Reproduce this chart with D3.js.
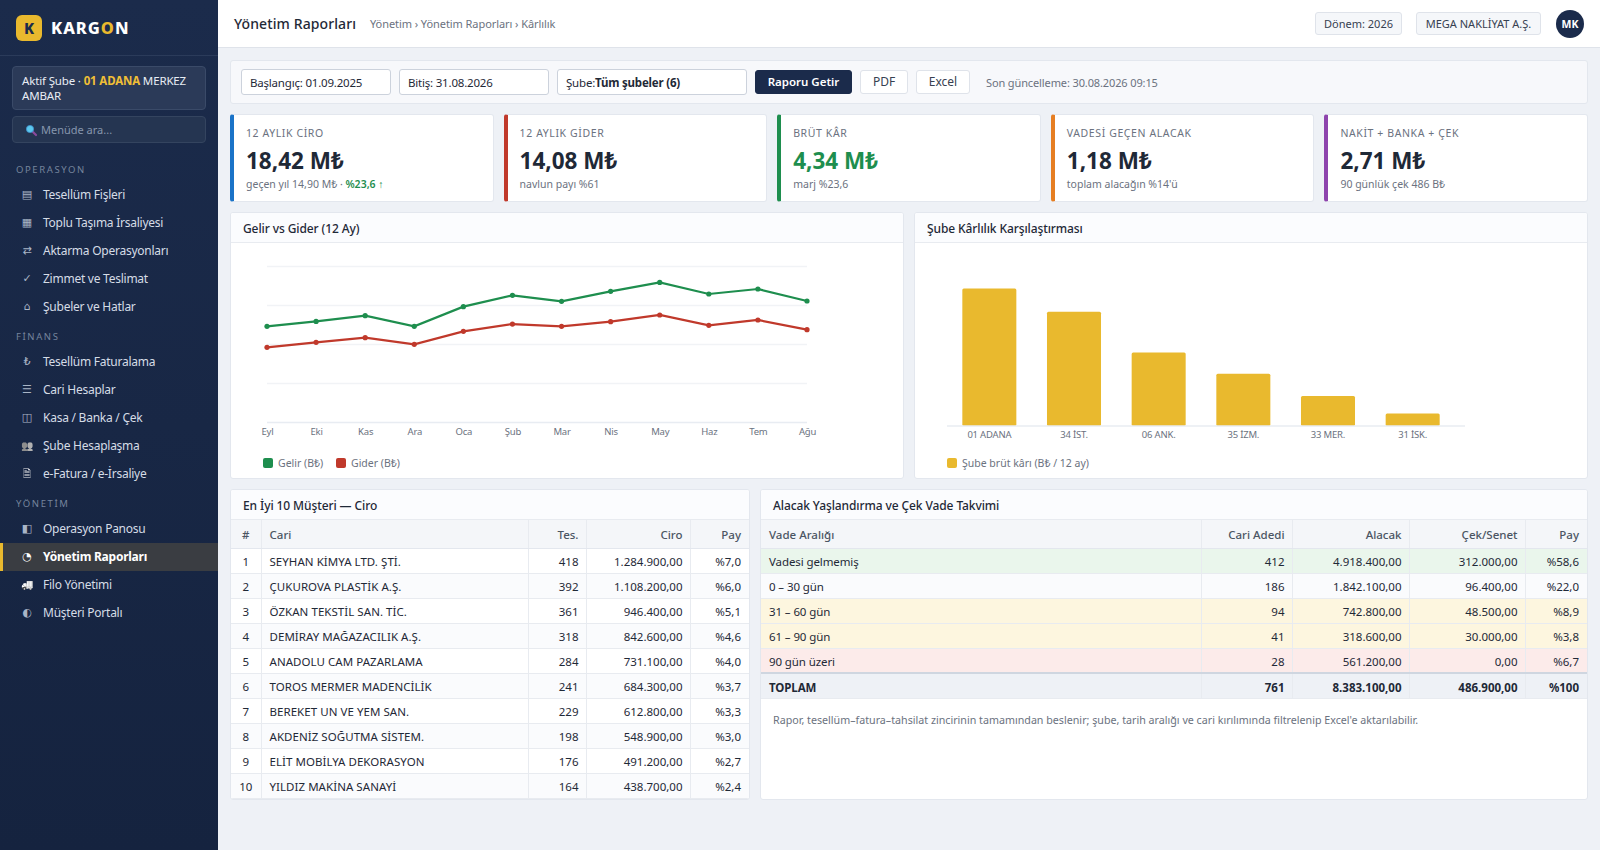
<!DOCTYPE html>
<html lang="tr">
<head>
<meta charset="utf-8">
<title>Yönetim Raporları</title>
<script src="https://cdnjs.cloudflare.com/ajax/libs/d3/7.9.0/d3.min.js"></script>
<style>
*{box-sizing:border-box}
html,body{margin:0;width:1600px;height:850px;overflow:hidden;background:#eef1f6;font-family:"Noto Sans",sans-serif;color:#1f2937}
.abs{position:absolute}
#side{left:0;top:0;width:218px;height:850px;background:linear-gradient(180deg,#1b2b4b,#15233f);color:#cbd5e1}
#logoRow{left:0;top:0;width:218px;height:56px;border-bottom:1px solid #2b3b5a}
#logoK{left:16px;top:15px;width:26px;height:26px;border-radius:6px;background:#e9b92e;color:#1b2b4b;font-weight:800;font-size:15px;text-align:center;line-height:26px}
#logoT{left:51px;top:16px;font-weight:800;font-size:16.5px;line-height:24px;letter-spacing:1px;color:#fff}
#logoT span{color:#e9b92e}
#aktif{left:12px;top:66px;width:194px;height:44px;border-radius:4px;background:#2b3a58;border:1px solid #3a4a68;padding:6px 9px;font-size:11.5px;letter-spacing:-.15px;line-height:15px;color:#e8edf4}
#aktif b{color:#f0bf36}
#ara{left:12px;top:116px;width:194px;height:27px;border-radius:4px;background:#253551;border:1px solid #34445f;padding:0 0 0 28px;font-size:11px;line-height:25px;color:#8595ad}
#ara svg{left:12px;top:7px}
.sec{left:16px;font-size:9.5px;letter-spacing:1.6px;color:#75849c;line-height:12px}
.nav{left:0;width:218px;height:28px;font-size:12px;letter-spacing:-.25px;line-height:28px;color:#d5dce6}
.nav .ic{position:absolute;left:18px;width:18px;text-align:center;font-size:11px;letter-spacing:0;color:#a9b5c6;font-family:"DejaVu Sans","Noto Sans",sans-serif}
.nav .ic.em{filter:grayscale(1) brightness(1.35);font-size:10px}
.nav .tx{position:absolute;left:43px}
.nav.on{background:#3a3d42;color:#fff;font-weight:700;border-left:3px solid #e9b92e}
.nav.on .ic{left:15px;color:#fff}.nav.on .tx{left:40px}
#top{left:218px;top:0;width:1382px;height:48px;background:#fff;border-bottom:1px solid #dfe3ea}
#ttl{left:16px;top:12px;font-size:14px;letter-spacing:.1px;font-weight:500;line-height:24px;color:#1f2937}
#crumb{left:152px;top:14px;font-size:11px;letter-spacing:-.07px;line-height:20px;color:#6b7280}
.pill{top:12px;height:23px;background:#f5f7fa;border:1px solid #dfe3ea;border-radius:3px;font-size:11px;line-height:21px;text-align:center;color:#374151}
#av{left:1338px;top:10px;width:28px;height:28px;border-radius:50%;background:#1b2b4b;color:#fff;font-size:10.5px;font-weight:700;text-align:center;line-height:28px}
#bar{left:230px;top:60px;width:1358px;height:44px;background:#f7f8fb;border:1px solid #e3e7ee;border-radius:3px}
.inp{top:69px;height:26px;background:#fff;border:1px solid #ccd2dc;border-radius:3px;font-size:11.5px;letter-spacing:-.2px;line-height:25px;padding-left:8px;color:#1f2937}
.inp b{font-weight:700}
.btn{top:70px;height:24px;border-radius:3px;font-size:12px;line-height:22px;text-align:center;background:#fff;border:1px solid #dfe3ea;color:#374151}
.btn.p{background:#1b2b4b;color:#fff;border-color:#1b2b4b;font-weight:600;font-size:11.5px}
#upd{left:986px;top:72px;font-size:11px;letter-spacing:-.12px;line-height:22px;color:#6b7280}
.kpi{top:114px;width:263.6px;height:88px;background:#fff;border:1px solid #e3e7ee;border-left-width:4px;border-radius:3px}
.kpi .l{position:absolute;left:12px;top:11px;font-size:10.5px;letter-spacing:.6px;line-height:14px;color:#6b7280;white-space:nowrap}
.kpi .v{position:absolute;left:12px;top:30px;font-size:22.5px;font-weight:700;line-height:32px;color:#1f2937;white-space:nowrap}
.kpi .s{position:absolute;left:12px;top:62px;font-size:10.5px;line-height:14px;color:#6b7280;white-space:nowrap}
.kpi .s b{color:#1e8e4e;font-weight:600}
.card{background:#fff;border:1px solid #e3e7ee;border-radius:3px;overflow:hidden}
.hd{height:30px;background:#fbfcfe;border-bottom:1px solid #e8ebf0;padding:1px 12px 0;font-size:12px;letter-spacing:-.1px;font-weight:500;line-height:30px;color:#1f2937}
svg{position:absolute;left:0;top:0}
.legend{position:absolute;top:243px;font-size:10.5px;line-height:14px;color:#6b7280;white-space:nowrap}
.legend i{display:inline-block;width:10px;height:10px;border-radius:2px;vertical-align:-1px;margin-right:5px}
table{border-collapse:collapse;table-layout:fixed;width:100%;font-size:11.5px}
th{height:28px;background:#f4f6f9;font-weight:500;color:#4b5563;border-right:1px solid #e8ebf0;border-bottom:1px solid #e3e7ee;padding:2px 8px 0;text-align:left}
td{height:25px;border-right:1px solid #e8ebf0;border-bottom:1px solid #e8ebf0;padding:2px 8px 0;color:#1f2937;white-space:nowrap;overflow:hidden}
th:last-child,td:last-child{border-right:none}
.r{text-align:right;padding-right:7px}.c{text-align:center}
th.r:last-child,td.r:last-child{padding-right:8px}
.caps td:nth-child(2){letter-spacing:.05px}
.v0 td:first-child{letter-spacing:-.1px}
tr.z td{background:#fafbfd}
tr.g td{background:#eaf6ec}tr.y td{background:#fdf6df}tr.p td{background:#fcebea}
tr.t td{background:#eef1f6;font-weight:700;border-top:2px solid #cfd6e0;padding-top:3px}
#note{left:773px;top:711px;font-size:10.7px;line-height:18px;color:#6b7280}
</style>
</head>
<body>
<script>
// ---- data ----
const navOps = [["▤","Tesellüm Fişleri"],["▦","Toplu Taşıma İrsaliyesi"],["⇄","Aktarma Operasyonları"],["✓","Zimmet ve Teslimat"],["⌂","Şubeler ve Hatlar"]];
const navFin = [["₺","Tesellüm Faturalama"],["☰","Cari Hesaplar"],["◫","Kasa / Banka / Çek"],["👥","Şube Hesaplaşma"],["🗎","e-Fatura / e-İrsaliye"]];
const navYon = [["◧","Operasyon Panosu"],["◔","Yönetim Raporları"],["🚚","Filo Yönetimi"],["◐","Müşteri Portalı"]];
const emojiIcons = ["👥","🗎","🚚"];
const kpiLabels = ["12 AYLIK CİRO","12 AYLIK GİDER","BRÜT KÂR","VADESİ GEÇEN ALACAK","NAKİT + BANKA + ÇEK"];
const kpiValues = ["18,42 M₺","14,08 M₺","4,34 M₺","1,18 M₺","2,71 M₺"];
const kpiSubs = ["geçen yıl 14,90 M₺ · <b>%23,6 ↑</b>","navlun payı %61","marj %23,6","toplam alacağın %14'ü","90 günlük çek 486 B₺"];
const kpiColors = ["#1a73c8","#c0392b","#1e8e4e","#e67e22","#8e44ad"];
const months = ["Eyl","Eki","Kas","Ara","Oca","Şub","Mar","Nis","May","Haz","Tem","Ağu"];
const gelir = [1226,1290,1363,1226,1479,1624,1547,1675,1790,1641,1705,1551];
const gider = [957,1021,1081,996,1162,1256,1226,1286,1372,1239,1308,1184];
const gridTicks = [0,500,1000,1500,2000];
const subeler = ["01 ADANA","34 İST.","06 ANK.","35 İZM.","33 MER.","31 İSK."];
const subeKar = [1420,1180,760,540,310,130];
const musteri = ["SEYHAN KİMYA LTD. ŞTİ.","ÇUKUROVA PLASTİK A.Ş.","ÖZKAN TEKSTİL SAN. TİC.","DEMİRAY MAĞAZACILIK A.Ş.","ANADOLU CAM PAZARLAMA","TOROS MERMER MADENCİLİK","BEREKET UN VE YEM SAN.","AKDENİZ SOĞUTMA SİSTEM.","ELİT MOBİLYA DEKORASYON","YILDIZ MAKİNA SANAYİ"];
const musTes = [418,392,361,318,284,241,229,198,176,164];
const musCiro = [1284900,1108200,946400,842600,731100,684300,612800,548900,491200,438700];
const musPay = [7.0,6.0,5.1,4.6,4.0,3.7,3.3,3.0,2.7,2.4];
const vade = ["Vadesi gelmemiş","0 – 30 gün","31 – 60 gün","61 – 90 gün","90 gün üzeri"];
const vadeAdet = [412,186,94,41,28];
const vadeAlacak = [4918400,1842100,742800,318600,561200];
const vadeCek = [312000,96400,48500,30000,0];
const vadePay = [58.6,22.0,8.9,3.8,6.7];

// ---- helpers ----
const loc = d3.formatLocale({decimal:",",thousands:".",grouping:[3],currency:["","₺"]});
const money = loc.format(",.2f"), pct = loc.format(".1f");
const body = d3.select("body");
const abs = (p,id,cls)=>p.append("div").attr("class","abs "+(cls||"")).attr("id",id||null);

// ---- sidebar ----
const side = abs(body,"side");
abs(side,"logoRow");
abs(side,"logoK").text("K");
abs(side,"logoT").html("KARG<span>O</span>N");
abs(side,"aktif").html("Aktif Şube · <b>01 ADANA</b> MERKEZ<br>AMBAR");
const ara = abs(side,"ara");
ara.append("span").text("Menüde ara...");
const lens = ara.append("svg").attr("width",13).attr("height",13);
lens.append("line").attr("x1",7).attr("y1",7).attr("x2",11).attr("y2",11).attr("stroke","#8a4a9c").attr("stroke-width",2.2).attr("stroke-linecap","round");
lens.append("circle").attr("cx",5).attr("cy",5).attr("r",3.6).attr("fill","#5cc8ee").attr("stroke","#3f93cf").attr("stroke-width",.8);
function navSection(title,secY,items,firstY){
  abs(side,null,"sec").style("top",secY+"px").text(title);
  side.selectAll(null).data(items).enter().append("div")
    .attr("class",d=>"abs nav"+(d[1]==="Yönetim Raporları"?" on":""))
    .style("top",(d,i)=>(firstY+i*28)+"px")
    .html(d=>`<span class="ic${emojiIcons.includes(d[0])?" em":""}">${d[0]}</span><span class="tx">${d[1]}</span>`);
}
navSection("OPERASYON",164,navOps,181);
navSection("FİNANS",331,navFin,348);
navSection("YÖNETİM",498,navYon,515);

// ---- topbar ----
const top_ = abs(body,"top");
abs(top_,"ttl").text("Yönetim Raporları");
abs(top_,"crumb").text("Yönetim › Yönetim Raporları › Kârlılık");
abs(top_,null,"pill").style("left","1097px").style("width","87px").text("Dönem: 2026");
abs(top_,null,"pill").style("left","1198px").style("width","125px").text("MEGA NAKLİYAT A.Ş.");
abs(top_,"av").text("MK");

// ---- toolbar ----
abs(body,"bar");
abs(body,null,"inp").style("left","241px").style("width","150px").text("Başlangıç: 01.09.2025");
abs(body,null,"inp").style("left","399px").style("width","150px").text("Bitiş: 31.08.2026");
abs(body,null,"inp").style("left","557px").style("width","190px").html("Şube:<b>Tüm şubeler (6)</b>");
abs(body,null,"btn p").style("left","755px").style("width","97px").text("Raporu Getir");
abs(body,null,"btn").style("left","860px").style("width","48px").text("PDF");
abs(body,null,"btn").style("left","916px").style("width","54px").text("Excel");
abs(body,"upd").text("Son güncelleme: 30.08.2026 09:15");

// ---- KPI ----
kpiLabels.forEach((l,i)=>{
  const k = abs(body,null,"kpi").style("left",(230+i*273.6)+"px").style("border-left-color",kpiColors[i]);
  k.append("div").attr("class","l").text(l);
  k.append("div").attr("class","v").style("color",i===2?"#1e8e4e":null).text(kpiValues[i]);
  k.append("div").attr("class","s").html(kpiSubs[i]);
});

// ---- line chart ----
const c1 = abs(body,null,"card").style("left","230px").style("top","212px").style("width","674px").style("height","267px");
c1.append("div").attr("class","hd").text("Gelir vs Gider (12 Ay)");
const s1 = c1.append("svg").attr("width",672).attr("height",265);
const g1 = s1.append("g").attr("transform","translate(-231,-213)");
const x1 = d3.scalePoint().domain(months).range([267,807]);
const y1 = d3.scaleLinear().domain([0,2000]).range([422,266]);
const gridG = g1.append("g").attr("transform","translate(267,0)")
  .call(d3.axisLeft(y1).tickValues(gridTicks).tickSize(-540).tickFormat(""));
gridG.select(".domain").remove();
gridG.selectAll("line").attr("stroke","#f1f3f6").attr("stroke-width",1.4);
gridG.selectAll("line").filter(d=>d===0).attr("stroke","#e8ecf2").attr("stroke-width",1.6);
const ax1 = g1.append("g").attr("transform","translate(0,422)")
  .call(d3.axisBottom(x1).tickSize(0).tickPadding(6));
ax1.select(".domain").remove();
ax1.selectAll("text").attr("font-size",9.5).attr("font-family","Noto Sans").attr("letter-spacing","-.2").attr("fill","#6b7280");
[[gelir,"#1e8e4e"],[gider,"#c0392b"]].forEach(([vals,col])=>{
  g1.append("path").datum(vals).attr("fill","none").attr("stroke",col).attr("stroke-width",2.2)
    .attr("d",d3.line().x((d,i)=>x1(months[i])).y(d=>y1(d)));
  g1.selectAll(null).data(vals).enter().append("circle")
    .attr("cx",(d,i)=>x1(months[i])).attr("cy",d=>y1(d)).attr("r",2.6).attr("fill",col);
});
c1.append("div").attr("class","legend").style("left","32px").html('<i style="background:#1e8e4e"></i>Gelir (B₺)');
c1.append("div").attr("class","legend").style("left","105px").html('<i style="background:#c0392b"></i>Gider (B₺)');

// ---- bar chart ----
const c2 = abs(body,null,"card").style("left","914px").style("top","212px").style("width","674px").style("height","267px");
c2.append("div").attr("class","hd").text("Şube Kârlılık Karşılaştırması");
const s2 = c2.append("svg").attr("width",672).attr("height",265);
const g2 = s2.append("g").attr("transform","translate(-915,-213)");
const x2 = d3.scaleBand().domain(subeler).range([947,1455]).paddingInner(.362).paddingOuter(.181);
const y2 = d3.scaleLinear().domain([0,1600]).range([426,271]);
g2.selectAll("rect").data(subeKar).enter().append("rect")
  .attr("x",(d,i)=>x2(subeler[i])).attr("width",x2.bandwidth())
  .attr("y",d=>y2(d)).attr("height",d=>y2(0)-y2(d)).attr("rx",1.5).attr("fill","#e9b92e");
const ax2 = g2.append("g").attr("transform","translate(0,426)")
  .call(d3.axisBottom(x2).tickSize(0).tickPadding(5));
ax2.select(".domain").remove();
ax2.selectAll("text").attr("font-size",9.5).attr("font-family","Noto Sans").attr("letter-spacing","-.2").attr("fill","#6b7280");
g2.append("line").attr("x1",947).attr("x2",1465).attr("y1",y2(0)).attr("y2",y2(0)).attr("stroke","#e8ecf2").attr("stroke-width",1.6);
c2.append("div").attr("class","legend").style("left","32px").html('<i style="background:#e9b92e"></i>Şube brüt kârı (B₺ / 12 ay)');

// ---- tables ----
function buildTable(card,cls,cols,heads,aligns,rows,rowClass){
  const t = card.append("table").attr("class",cls);
  t.append("colgroup").selectAll("col").data(cols).enter().append("col").style("width",d=>d+"px");
  t.append("thead").append("tr").selectAll("th").data(heads).enter().append("th")
    .attr("class",(d,i)=>aligns[i]).text(d=>d);
  const tr = t.append("tbody").selectAll("tr").data(rows).enter().append("tr").attr("class",rowClass);
  tr.selectAll("td").data(d=>d).enter().append("td").attr("class",(d,i)=>aligns[i]).text(d=>d);
}
const c3 = abs(body,null,"card").style("left","230px").style("top","489px").style("width","520px").style("height","311px");
c3.append("div").attr("class","hd").text("En İyi 10 Müşteri — Ciro");
buildTable(c3,"caps",[30,267,58,104,59],["#","Cari","Tes.","Ciro","Pay"],["c","","r","r","r"],
  musteri.map((m,i)=>[i+1,m,musTes[i],money(musCiro[i]),"%"+pct(musPay[i])]),
  (d,i)=>i%2?"z":"");

const c4 = abs(body,null,"card").style("left","760px").style("top","489px").style("width","828px").style("height","311px");
c4.append("div").attr("class","hd").text("Alacak Yaşlandırma ve Çek Vade Takvimi");
const vadeRows = vade.map((m,i)=>[m,vadeAdet[i],money(vadeAlacak[i]),money(vadeCek[i]),"%"+pct(vadePay[i])]);
vadeRows.push(["TOPLAM",d3.sum(vadeAdet),money(d3.sum(vadeAlacak)),money(d3.sum(vadeCek)),"%100"]);
const vadeCls = ["g","z","y","y","p","t"];
buildTable(c4,"v0",[440,91,117,116,62],["Vade Aralığı","Cari Adedi","Alacak","Çek/Senet","Pay"],["","r","r","r","r"],vadeRows,(d,i)=>vadeCls[i]);
abs(body,"note").text("Rapor, tesellüm–fatura–tahsilat zincirinin tamamından beslenir; şube, tarih aralığı ve cari kırılımında filtrelenip Excel'e aktarılabilir.");
</script>
</body>
</html>
